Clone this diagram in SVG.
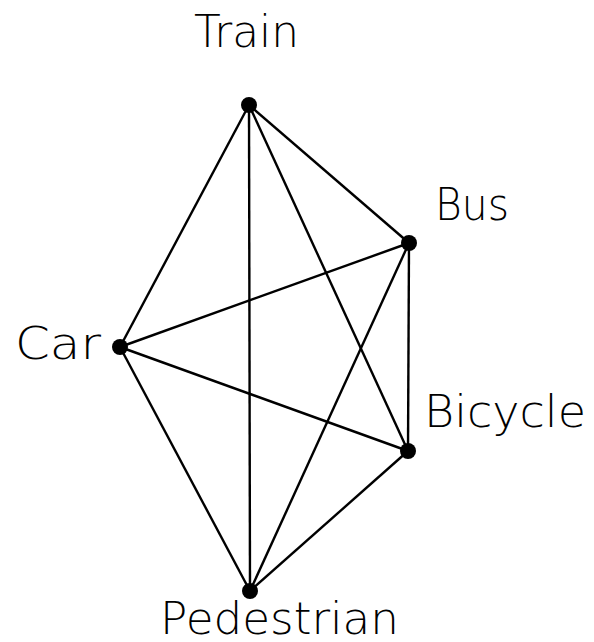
<svg xmlns="http://www.w3.org/2000/svg" width="594" height="642" viewBox="0 0 594 642">
  <style>
    .edge { stroke: #000; stroke-width: 2.4; fill: none; }
    .dot { fill: #000; }
    .label { font-family: "DejaVu Sans", "Liberation Sans", sans-serif; font-weight: 200; font-size: 45px; fill: #000; }
  </style>
  <rect width="594" height="642" fill="#fff"/>
  <g id="edges">
    <line class="edge" x1="249" y1="105" x2="409" y2="243"/>
    <line class="edge" x1="249" y1="105" x2="120" y2="347"/>
    <line class="edge" x1="249" y1="105" x2="250" y2="591"/>
    <line class="edge" x1="249" y1="105" x2="408" y2="451"/>
    <line class="edge" x1="409" y1="243" x2="120" y2="347"/>
    <line class="edge" x1="409" y1="243" x2="408" y2="451"/>
    <line class="edge" x1="409" y1="243" x2="250" y2="591"/>
    <line class="edge" x1="120" y1="347" x2="408" y2="451"/>
    <line class="edge" x1="120" y1="347" x2="250" y2="591"/>
    <line class="edge" x1="408" y1="451" x2="250" y2="591"/>
  </g>
  <g id="train">
    <circle class="dot" cx="249" cy="105" r="8"/>
    <text class="label" x="194" y="47" textLength="105" lengthAdjust="spacingAndGlyphs">Train</text>
  </g>
  <g id="bus">
    <circle class="dot" cx="409" cy="243" r="8"/>
    <text class="label" x="435" y="220" textLength="74" lengthAdjust="spacingAndGlyphs">Bus</text>
  </g>
  <g id="car">
    <circle class="dot" cx="120" cy="347" r="8"/>
    <text class="label" x="15" y="359" textLength="86" lengthAdjust="spacingAndGlyphs">Car</text>
  </g>
  <g id="bicycle">
    <circle class="dot" cx="408" cy="451" r="8"/>
    <text class="label" x="424" y="427" textLength="162" lengthAdjust="spacingAndGlyphs">Bicycle</text>
  </g>
  <g id="pedestrian">
    <circle class="dot" cx="250" cy="591" r="8"/>
    <text class="label" x="160" y="634" textLength="239" lengthAdjust="spacingAndGlyphs">Pedestrian</text>
  </g>
</svg>
